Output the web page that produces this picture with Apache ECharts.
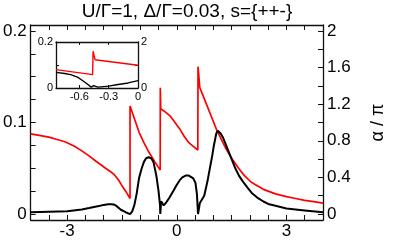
<!DOCTYPE html>
<html><head><meta charset="utf-8">
<script src="https://cdn.jsdelivr.net/npm/echarts@6/dist/echarts.min.js"></script>
<style>html,body{margin:0;padding:0;background:#fff}#c{width:395px;height:240px}</style>
</head><body><div id="c"></div>
<script>
const titleText = 'U/\u0393=1, \u0394/\u0393=0.03, s={++-}';
const rightAxisName = '\u03b1 / \u03c0';

// main panel tick values
const mainXTicks = [-3.5,-3,-2.5,-2,-1.5,-1,-0.5,0,0.5,1,1.5,2,2.5,3,3.5];
const mainXLabels = [-3, 0, 3];
const mainLeftTicks = [0,0.025,0.05,0.075,0.1,0.125,0.15,0.175,0.2];
const mainLeftLabels = [0, 0.1, 0.2];
const mainRightTicks = [0,0.2,0.4,0.6,0.8,1,1.2,1.4,1.6,1.8,2];
const mainRightLabels = [0,0.4,0.8,1.2,1.6,2];

// inset tick values
const insetXTicks = [-0.6, -0.3];
const insetXLabels = [-0.6, -0.3, 0];
const insetLeftTicks = [0.1];
const insetLeftLabels = [0, 0.2];
const insetRightTicks = [1];
const insetRightLabels = [0, 2];

// main black curve (left axis)
const blackX = [-4,-3.5,-3,-2.6,-2.4,-2.1,-2.0,-1.88,-1.78,-1.7,-1.62,-1.53,-1.4,-1.28,-1.22,-1.16,-1.1,-1.03,-0.96,-0.9,-0.84,-0.77,-0.7,-0.64,-0.56,-0.5,-0.46,-0.452,-0.43,-0.36,-0.3,-0.2,-0.1,0,0.08,0.15,0.24,0.33,0.45,0.51,0.55,0.58,0.63,0.67,0.75,0.84,0.9,0.97,1.01,1.05,1.08,1.12,1.2,1.27,1.35,1.5,1.6,1.7,1.8,1.95,2.05,2.2,2.37,2.5,2.7,3,3.5,4];
const blackY = [0.002,0.0025,0.003,0.005,0.0065,0.009,0.010,0.0108,0.0106,0.0101,0.0078,0.0047,0.002,0,0.003,0.010,0.022,0.040,0.050,0.057,0.061,0.062,0.061,0.057,0.042,0.025,0.010,0,0.014,0.0095,0.012,0.018,0.025,0.032,0.037,0.040,0.042,0.042,0.039,0.034,0.022,0,0.012,0.011,0.020,0.036,0.049,0.064,0.074,0.082,0.088,0.091,0.088,0.083,0.075,0.060,0.050,0.042,0.036,0.028,0.023,0.018,0.0137,0.011,0.009,0.006,0.004,0.002];

// main red curve (right axis)
const redX = [-4,-3.8,-3.5,-3.3,-3.06,-2.8,-2.6,-2.4,-2.22,-2.05,-1.95,-1.82,-1.71,-1.6,-1.5,-1.4,-1.28,-1.28,-1.15,-1.03,-0.9,-0.77,-0.6,-0.455,-0.452,-0.44,-0.3,-0.18,-0.05,0.08,0.2,0.33,0.45,0.575,0.58,0.63,0.7,0.84,1.1,1.2,1.35,1.5,1.69,1.85,2.03,2.2,2.37,2.7,3,3.25,3.5,3.75,4];
const redY = [0.876,0.862,0.84,0.817,0.79,0.74,0.69,0.635,0.58,0.53,0.50,0.465,0.43,0.375,0.31,0.25,0.17,1.18,1.03,0.89,0.78,0.68,0.57,0.48,1.38,1.15,1.11,1.07,1.0,0.93,0.85,0.78,0.74,0.70,1.61,1.38,1.31,1.17,0.91,0.83,0.71,0.61,0.50,0.42,0.35,0.31,0.27,0.22,0.19,0.17,0.15,0.135,0.12];

// inset curves
const insetBlackX = [-0.84,-0.75,-0.69,-0.62,-0.58,-0.54,-0.51,-0.48,-0.465,-0.455,-0.44,-0.41,-0.3,-0.22,-0.1,0];
const insetBlackY = [0.068,0.063,0.058,0.047,0.036,0.024,0.014,0.004,0,0.01,0.006,0.004,0.008,0.014,0.022,0.032];
const insetRedX = [-0.84,-0.465,-0.46,-0.44,0];
const insetRedY = [0.80,0.58,1.60,1.23,0.99];

const zip = (xs, ys) => xs.map((x, i) => [x, ys[i]]);
const FONT = 'Liberation Sans';
const axisCol = '#111';
const fmt = v => String(v);

function axis(base, o) {
  return Object.assign({
    type: 'value',
    splitLine: {show: false},
    axisLine: {show: true, onZero: false, lineStyle: {color: axisCol, width: 1.3}},
  }, base, o);
}

const chart = echarts.init(document.getElementById('c'), null, {renderer: 'canvas'});
chart.setOption({
  animation: false,
  backgroundColor: '#fff',
  title: {
    text: titleText, left: 187, top: 2, padding: 0, textAlign: 'center',
    textStyle: {fontFamily: FONT, fontSize: 19, fontWeight: 'normal', color: '#000'}
  },
  grid: [
    {left: 30, top: 25, width: 313, height: 197, containLabel: false},
    {left: 56, top: 42, width: 82, height: 46, containLabel: false}
  ],
  xAxis: [
    axis({gridIndex: 0, min: -4, max: 4, position: 'bottom'}, {
      axisTick: {inside: true, length: 5, customValues: mainXTicks, lineStyle: {color: axisCol, width: 1}},
      axisLabel: {customValues: mainXLabels, formatter: fmt, fontFamily: FONT, fontSize: 17, color: '#000', margin: 3}
    }),
    axis({gridIndex: 0, min: -4, max: 4, position: 'top'}, {
      axisTick: {inside: true, length: 5, customValues: mainXTicks, lineStyle: {color: axisCol, width: 1}},
      axisLabel: {show: false}
    }),
    axis({gridIndex: 1, min: -0.84, max: 0, position: 'bottom'}, {
      axisTick: {inside: true, length: 3, customValues: insetXTicks, lineStyle: {color: axisCol, width: 1}},
      axisLabel: {customValues: insetXLabels, formatter: fmt, fontFamily: FONT, fontSize: 11, color: '#000', margin: 3}
    }),
    axis({gridIndex: 1, min: -0.84, max: 0, position: 'top'}, {
      axisTick: {inside: true, length: 3, customValues: insetXTicks, lineStyle: {color: axisCol, width: 1}},
      axisLabel: {show: false}
    })
  ],
  yAxis: [
    axis({gridIndex: 0, min: -0.0065, max: 0.2065, position: 'left'}, {
      axisTick: {inside: true, length: 5, customValues: mainLeftTicks, lineStyle: {color: axisCol, width: 1}},
      axisLabel: {customValues: mainLeftLabels, formatter: fmt, fontFamily: FONT, fontSize: 17, color: '#000', margin: 4}
    }),
    axis({gridIndex: 0, min: -0.065, max: 2.065, position: 'right'}, {
      name: rightAxisName, nameLocation: 'middle', nameGap: 46,
      nameTextStyle: {fontFamily: FONT, fontSize: 18, color: '#000'},
      axisTick: {inside: true, length: 5, customValues: mainRightTicks, lineStyle: {color: axisCol, width: 1}},
      axisLabel: {customValues: mainRightLabels, formatter: fmt, fontFamily: FONT, fontSize: 17, color: '#000', margin: 4}
    }),
    axis({gridIndex: 1, min: 0, max: 0.2, position: 'left'}, {
      axisTick: {inside: true, length: 3, customValues: insetLeftTicks, lineStyle: {color: axisCol, width: 1}},
      axisLabel: {customValues: insetLeftLabels, formatter: fmt, fontFamily: FONT, fontSize: 11, color: '#000', margin: 3}
    }),
    axis({gridIndex: 1, min: 0, max: 2, position: 'right'}, {
      axisTick: {inside: true, length: 3, customValues: insetRightTicks, lineStyle: {color: axisCol, width: 1}},
      axisLabel: {customValues: insetRightLabels, formatter: fmt, fontFamily: FONT, fontSize: 11, color: '#000', margin: 3}
    })
  ],
  series: [
    {type: 'line', xAxisIndex: 0, yAxisIndex: 1, data: zip(redX, redY), showSymbol: false,
     lineStyle: {color: '#ff0000', width: 1.7}, itemStyle: {color: '#ff0000'}, clip: true},
    {type: 'line', xAxisIndex: 0, yAxisIndex: 0, data: zip(blackX, blackY), showSymbol: false,
     lineStyle: {color: '#000', width: 2}, itemStyle: {color: '#000'}, clip: true},
    {type: 'line', xAxisIndex: 2, yAxisIndex: 3, data: zip(insetRedX, insetRedY), showSymbol: false,
     lineStyle: {color: '#ff0000', width: 1.4}, itemStyle: {color: '#ff0000'}, clip: true},
    {type: 'line', xAxisIndex: 2, yAxisIndex: 2, data: zip(insetBlackX, insetBlackY), showSymbol: false,
     lineStyle: {color: '#000', width: 1.4}, itemStyle: {color: '#000'}, clip: true}
  ]
});
</script>
</body></html>
